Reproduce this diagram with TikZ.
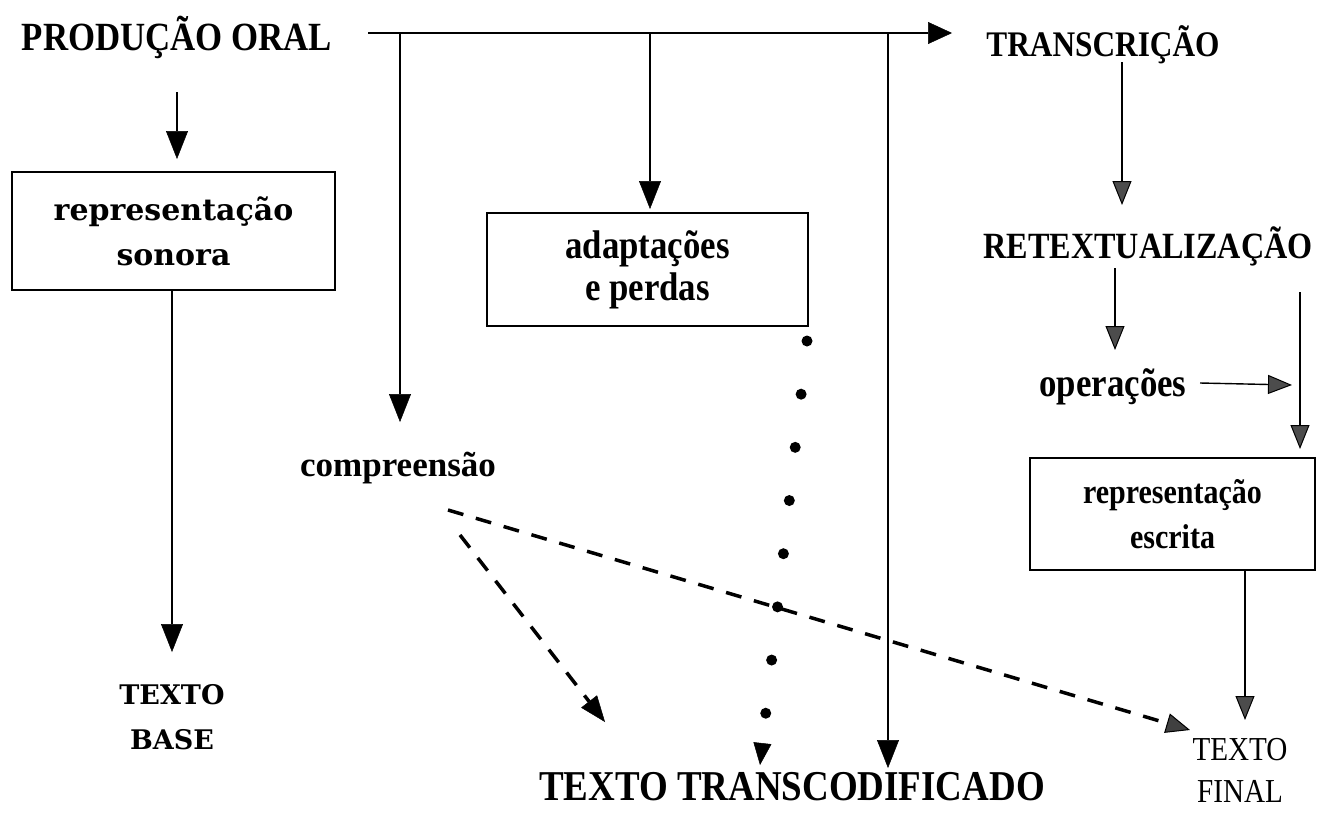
\documentclass[tikz,border=0pt]{standalone}
\usepackage{fontspec}
\setmainfont{Liberation Serif}
\newfontfamily\condfont[FakeStretch=0.87]{Liberation Serif}
\newfontfamily\wideserif{DejaVu Serif}
\usetikzlibrary{arrows.meta}
\begin{document}
\begin{tikzpicture}[x=1pt,y=-1pt,
  txt/.style={inner sep=0pt, align=center},
  capl/.style={txt, anchor=base},
  box/.style={draw, line width=2pt, inner sep=0pt, align=center},
  arr/.style={line width=2.2pt, -{Triangle[length=28pt,width=22pt,line width=0.5pt]}},
  harr/.style={line width=2.2pt, -{Triangle[length=24pt,width=22pt,line width=0.5pt]}},
  tarr/.style={line width=1.4pt, -{Triangle[length=24pt,width=19pt,line width=1pt,fill=black!70]}},
  dsh/.style={line width=3.5pt, dash pattern=on 16pt off 13pt, -{Triangle[length=26pt,width=20pt,line width=0.5pt]}},
  dsh2/.style={line width=3.5pt, dash pattern=on 16pt off 13pt, -{Triangle[length=24pt,width=20pt,line width=1pt,fill=black!75]}},
  dotl/.style={line width=11pt, line cap=round, dash pattern=on 0pt off 53.5pt, -{Triangle[length=22pt,width=18pt,line width=0.5pt]}}
]
\fill[white] (0,0) rectangle (1328,812);
\useasboundingbox (0,0) rectangle (1328,812);

% text nodes
\node[capl, font=\condfont\fontsize{40}{44}\selectfont\bfseries] (po) at (177,50) {PRODUÇÃO ORAL};
\node[capl, font=\condfont\fontsize{36}{40}\selectfont\bfseries] (tr) at (1103,56) {TRANSCRIÇÃO};
\node[capl, font=\condfont\fontsize{37}{40}\selectfont\bfseries] (rt) at (1148,258) {RETEXTUALIZAÇÃO};
\node[capl, font=\condfont\fontsize{40}{44}\selectfont\bfseries] (op) at (1113,396) {operações};
\node[capl, font=\fontsize{35}{40}\selectfont\bfseries] (comp) at (398,476) {compreensão};
\node[txt, font=\wideserif\fontsize{27}{45}\selectfont\bfseries] (tb) at (172,717) {TEXTO\\BASE};
\node[capl, font=\condfont\fontsize{42.5}{46}\selectfont\bfseries] (ttc) at (792,800) {TEXTO TRANSCODIFICADO};
\node[txt, font=\condfont\fontsize{33.5}{42}\selectfont] (tf) at (1240,770) {TEXTO\\FINAL};

% boxes
\node[box, minimum width=323pt, minimum height=118pt, font=\wideserif\fontsize{30}{45}\selectfont\bfseries] (sonora) at (173.5,231) {representação\\sonora};
\node[box, minimum width=321pt, minimum height=113pt, font=\condfont\fontsize{40}{42}\selectfont\bfseries] (adapt) at (647.5,269.5) {adaptações\\e perdas};
\node[box, minimum width=285pt, minimum height=112pt, font=\condfont\fontsize{34.5}{45}\selectfont\bfseries] (escrita) at (1172.5,514) {representação\\escrita};

% junctions on the top line
\coordinate (j1) at (400,33);
\coordinate (j2) at (650,33);
\coordinate (j3) at (888,33);
\coordinate (vmid) at (1300,385);

% left column
\draw[arr] ([yshift=-42pt]po.base) -- ([xshift=3.5pt,yshift=12pt]sonora.north);
\draw[arr] (sonora.south -| tb.center) -- ([yshift=65pt]tb.center);

% top line and branches
\draw[harr] ([xshift=191pt,yshift=17pt]po.base) -- ([xshift=-151pt,yshift=23pt]tr.base);
\draw[arr] (j1) -- ([yshift=54pt]comp.base -| j1);
\draw[arr] (j2) -- ([yshift=3pt]adapt.north -| j2);
\draw[arr] (j3) -- ([yshift=32pt]ttc.base -| j3);

% dotted and dashed
\draw[dotl] ([xshift=-2pt,yshift=-14pt]adapt.south east) -- ([xshift=-32pt,yshift=35pt]ttc.base);
\draw[dsh] ([xshift=62pt,yshift=-59pt]comp.base) -- ([xshift=-187pt,yshift=78pt]ttc.base);
\draw[dsh2] ([xshift=50pt,yshift=-34pt]comp.base) -- ([xshift=-50pt,yshift=40pt]tf.center);

% right column
\draw[tarr] ([xshift=19pt,yshift=-6pt]tr.base) -- ([xshift=-26pt,yshift=53pt]rt.base);
\draw[tarr] ([xshift=-33pt,yshift=-10pt]rt.base) -- ([xshift=2pt,yshift=46pt]op.base);
\draw[tarr] ([xshift=87pt,yshift=13pt]op.base) -- ([xshift=-8pt]vmid);
\draw[tarr] ([xshift=152pt,yshift=-34pt]rt.base) -- ([xshift=127.5pt,yshift=8pt]escrita.north);
\draw[tarr] ([xshift=72.5pt]escrita.south) -- ([xshift=5pt,yshift=50pt]tf.center);
\end{tikzpicture}
\end{document}
